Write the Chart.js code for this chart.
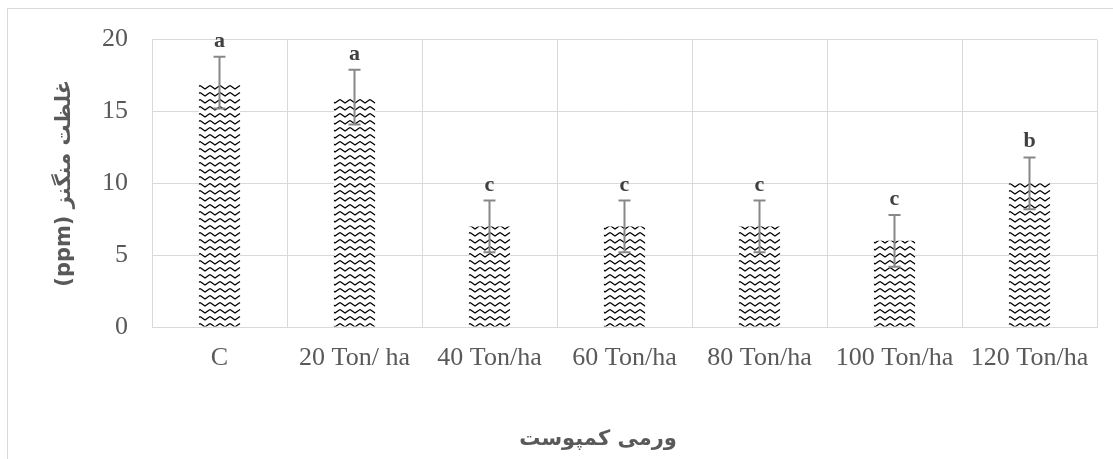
<!DOCTYPE html>
<html lang="fa">
<head>
    <meta charset="UTF-8">
    <title>Manganese concentration</title>
    <style>
        body {
            margin: 0;
            background-color: #fff;
        }
        #chart-container {
            width: 1113px;
            height: 459px;
            position: relative;
        }
    </style>
    <script src="https://cdn.jsdelivr.net/npm/chart.js"></script>
</head>
<body>
    <div id="chart-container">
        <canvas id="mn-chart"></canvas>
    </div>
    <script>
        const categories = ['C', '20 Ton/ ha', '40 Ton/ha', '60 Ton/ha', '80 Ton/ha', '100 Ton/ha', '120 Ton/ha'];
        const values = [17, 16, 7, 7, 7, 6, 10];
        const errors = [1.8, 1.9, 1.8, 1.8, 1.8, 1.8, 1.8];
        const letters = ['a', 'a', 'c', 'c', 'c', 'c', 'b'];
        const yTicks = [0, 5, 10, 15, 20];
        const yTitle = 'غلظت منگنز (ppm)';
        const xTitle = 'ورمی کمپوست';

        const gridColor = '#d9d9d9';
        const textColor = '#595959';
        const serif = '"Liberation Serif", "Times New Roman", serif';
        const persian = '"DejaVu Sans", Tahoma, sans-serif';

        // zigzag fill like the Excel "wave" pattern
        function makeWavePattern() {
            const tile = document.createElement('canvas');
            tile.width = 10;
            tile.height = 7;
            const t = tile.getContext('2d');
            t.fillStyle = '#fff';
            t.fillRect(0, 0, 10, 7);
            t.strokeStyle = '#000';
            t.lineWidth = 1.4;
            t.beginPath();
            t.moveTo(0, 1.5);
            t.lineTo(5, 5);
            t.lineTo(10, 1.5);
            t.stroke();
            return t.createPattern(tile, 'repeat');
        }

        const framePlugin = {
            id: 'frame',
            beforeDraw(chart) {
                const ctx = chart.ctx;
                ctx.save();
                ctx.strokeStyle = gridColor;
                ctx.lineWidth = 1;
                ctx.strokeRect(7.5, 8.5, 1300, 600);
                ctx.restore();
            }
        };

        const errorBarPlugin = {
            id: 'errorBars',
            afterDatasetsDraw(chart) {
                const ctx = chart.ctx;
                const y = chart.scales.y;
                const meta = chart.getDatasetMeta(0);
                ctx.save();
                meta.data.forEach((bar, i) => {
                    const top = y.getPixelForValue(values[i] + errors[i]);
                    const bottom = y.getPixelForValue(values[i] - errors[i]);
                    ctx.strokeStyle = '#888888';
                    ctx.lineWidth = 2;
                    ctx.beginPath();
                    ctx.moveTo(bar.x, top);
                    ctx.lineTo(bar.x, bottom);
                    ctx.moveTo(bar.x - 6, top);
                    ctx.lineTo(bar.x + 6, top);
                    ctx.moveTo(bar.x - 6, bottom);
                    ctx.lineTo(bar.x + 6, bottom);
                    ctx.stroke();

                    ctx.fillStyle = '#404040';
                    ctx.font = 'bold 22px ' + serif;
                    ctx.textAlign = 'center';
                    ctx.textBaseline = 'alphabetic';
                    ctx.fillText(letters[i], bar.x, top - 10);
                });
                ctx.restore();
            }
        };

        const axisTitlePlugin = {
            id: 'axisTitles',
            afterDraw(chart) {
                const ctx = chart.ctx;
                const area = chart.chartArea;
                ctx.save();
                ctx.fillStyle = textColor;
                ctx.font = 'bold 21px ' + persian;
                ctx.direction = 'rtl';
                ctx.textAlign = 'center';
                ctx.textBaseline = 'middle';
                ctx.translate(65, (area.top + area.bottom) / 2);
                ctx.rotate(-Math.PI / 2);
                ctx.fillText(yTitle, 0, 0);
                ctx.restore();

                ctx.save();
                ctx.fillStyle = textColor;
                ctx.font = 'bold 21px ' + persian;
                ctx.direction = 'rtl';
                ctx.textAlign = 'center';
                ctx.textBaseline = 'middle';
                ctx.fillText(xTitle, 598, 440);
                ctx.restore();
            }
        };

        window.onload = function() {
            const ctx = document.getElementById('mn-chart').getContext('2d');
            new Chart(ctx, {
                type: 'bar',
                data: {
                    labels: categories,
                    datasets: [{
                        data: values,
                        backgroundColor: makeWavePattern(),
                        borderWidth: 0,
                        categoryPercentage: 1,
                        barPercentage: 0.305
                    }]
                },
                options: {
                    responsive: true,
                    maintainAspectRatio: false,
                    animation: false,
                    layout: {
                        padding: { left: 0, right: 16, top: 38, bottom: 0 }
                    },
                    plugins: {
                        legend: { display: false },
                        tooltip: { enabled: false }
                    },
                    scales: {
                        x: {
                            grid: {
                                offset: true,
                                color: gridColor,
                                drawTicks: false
                            },
                            border: { display: true, color: gridColor },
                            ticks: {
                                color: textColor,
                                font: { family: serif, size: 26 },
                                padding: 16,
                                maxRotation: 0,
                                autoSkip: false
                            },
                            afterFit(scale) {
                                scale.height = 132;
                            }
                        },
                        y: {
                            min: 0,
                            max: 20,
                            afterBuildTicks(scale) {
                                scale.ticks = yTicks.map(v => ({ value: v }));
                            },
                            grid: {
                                color: gridColor,
                                drawTicks: false
                            },
                            border: { display: false },
                            ticks: {
                                color: textColor,
                                font: { family: serif, size: 26 },
                                padding: 24
                            },
                            afterFit(scale) {
                                scale.width = 152;
                            }
                        }
                    }
                },
                plugins: [framePlugin, errorBarPlugin, axisTitlePlugin]
            });
        };
    </script>
</body>
</html>
